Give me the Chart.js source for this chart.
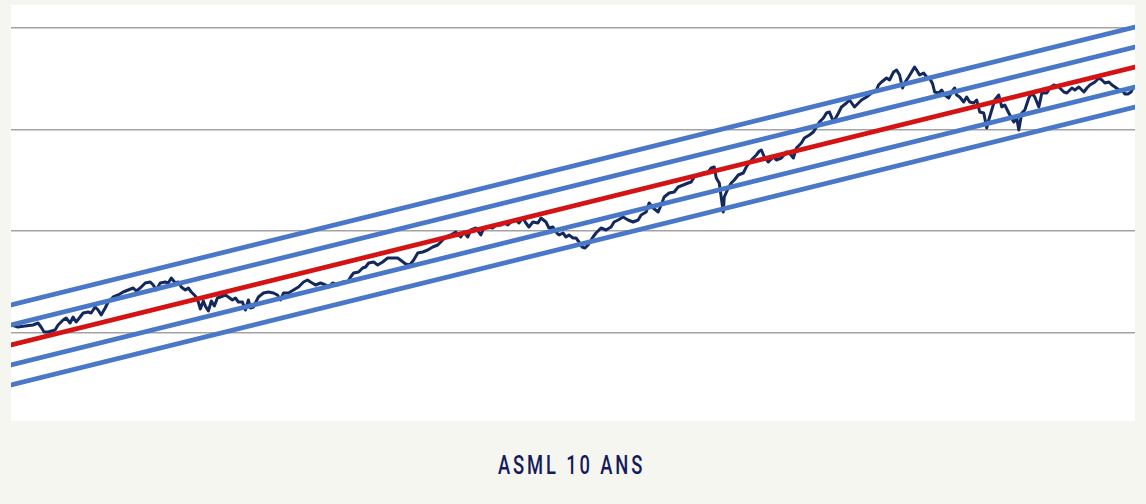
<!DOCTYPE html>
<html lang="fr">
<head>
<meta charset="utf-8">
<title>ASML 10 ans</title>
<script src="https://cdn.jsdelivr.net/npm/chart.js@4/dist/chart.umd.min.js"></script>
<style>
    html, body { margin: 0; padding: 0; }
    body { width: 1146px; height: 504px; background: #f6f6f1; position: relative; overflow: hidden; }
    #panel { position: absolute; left: 11px; top: 5px; width: 1124px; height: 416px; background: #ffffff; }
    #caption {
        position: absolute; left: 0; width: 1146px; top: 450px; text-align: center;
        transform: scaleX(0.72); transform-origin: 568px 0;
        font-family: "Roboto", "Liberation Sans", sans-serif; font-weight: 500;
        font-size: 25.5px; letter-spacing: 4px; color: #141a5c;
    }
</style>
</head>
<body>
<div id="panel"><canvas id="asmlChart" width="1124" height="416"></canvas></div>
<div id="caption">ASML 10 ANS</div>

<script>
// Time axis (sessions) and price readings
const jours = [0, 7, 14, 22, 27, 30, 33, 37, 44, 47, 52, 55, 59, 62, 65, 69, 72, 77, 80, 84, 87, 90, 94, 97, 102, 107, 112, 117, 122, 125, 129, 134, 139, 142, 145, 149, 154, 157, 160, 164, 167, 170, 174, 177, 180, 184, 187, 189, 192, 194, 197, 200, 203, 206, 209, 214, 217, 221, 224, 227, 231, 234, 237, 239, 242, 247, 252, 257, 262, 266, 269, 272, 277, 282, 287, 292, 296, 299, 304, 309, 314, 317, 321, 326, 331, 336, 339, 342, 347, 351, 354, 357, 362, 366, 371, 376, 381, 386, 390, 394, 398, 402, 406, 411, 416, 421, 426, 429, 434, 439, 444, 449, 452, 456, 459, 464, 469, 472, 477, 481, 484, 489, 492, 496, 499, 504, 507, 511, 514, 517, 521, 526, 529, 534, 537, 541, 544, 547, 551, 554, 557, 561, 564, 567, 570, 573, 576, 581, 584, 589, 594, 599, 602, 606, 611, 616, 621, 626, 629, 634, 637, 641, 646, 649, 652, 657, 662, 666, 671, 676, 679, 682, 686, 691, 696, 699, 702, 704, 707, 711, 712, 716, 719, 722, 726, 731, 734, 739, 744, 747, 749, 752, 756, 761, 764, 769, 774, 777, 781, 784, 789, 792, 797, 801, 804, 807, 811, 814, 817, 821, 826, 829, 834, 837, 842, 846, 849, 854, 859, 864, 866, 869, 874, 877, 881, 884, 887, 890, 892, 896, 899, 902, 904, 907, 911, 914, 917, 920, 922, 926, 929, 932, 936, 939, 942, 944, 947, 951, 954, 957, 961, 964, 967, 971, 974, 976, 979, 982, 986, 989, 992, 996, 1001, 1004, 1006, 1009, 1012, 1016, 1019, 1022, 1026, 1029, 1034, 1037, 1041, 1046, 1051, 1054, 1059, 1062, 1066, 1071, 1074, 1077, 1082, 1086, 1089, 1092, 1096, 1099, 1102, 1106, 1109, 1112, 1115, 1118, 1120];
const cours = [96, 94, 95, 96, 98, 94, 89, 89, 91, 96, 101, 103, 98, 104, 99, 104, 108, 109, 108, 114, 111, 106, 113, 119, 124, 126, 129, 131, 133, 130, 133, 138, 139, 136, 131, 138, 139, 138, 143, 138, 139, 134, 131, 133, 129, 125, 119, 112, 120, 115, 110, 120, 115, 123, 124, 126, 124, 121, 123, 119, 119, 111, 121, 113, 114, 124, 128, 129, 128, 126, 121, 128, 128, 131, 134, 139, 141, 139, 136, 138, 136, 134, 138, 136, 139, 139, 144, 148, 149, 153, 154, 158, 159, 156, 159, 163, 163, 163, 160, 157, 156, 161, 168, 169, 171, 174, 176, 179, 184, 186, 189, 184, 189, 184, 191, 193, 186, 193, 194, 193, 196, 196, 198, 196, 199, 201, 198, 203, 198, 194, 199, 198, 203, 199, 193, 194, 189, 186, 188, 184, 186, 183, 183, 179, 174, 173, 176, 184, 188, 193, 191, 194, 199, 201, 204, 201, 199, 201, 206, 209, 218, 213, 209, 216, 224, 228, 229, 234, 236, 238, 239, 244, 246, 248, 249, 253, 254, 243, 238, 209, 224, 233, 238, 241, 246, 248, 254, 261, 266, 270, 271, 264, 259, 264, 261, 263, 269, 268, 263, 273, 278, 283, 286, 289, 294, 299, 303, 308, 309, 299, 308, 314, 318, 321, 314, 318, 321, 324, 328, 331, 336, 339, 343, 341, 349, 351, 346, 333, 338, 344, 349, 354, 351, 346, 348, 344, 343, 337, 329, 328, 331, 326, 323, 329, 333, 326, 324, 319, 324, 319, 318, 321, 309, 308, 293, 301, 311, 321, 326, 314, 316, 308, 299, 303, 291, 308, 311, 323, 328, 324, 314, 328, 328, 333, 336, 334, 329, 328, 333, 331, 334, 329, 333, 336, 339, 343, 341, 338, 339, 336, 334, 331, 331, 327, 327, 329, 333];

// Regression channel: start / end of the centre line, band offsets
const trendDebut = [0, 1122];
const trendCentre = [76, 354];
const ecarts = [40, 20, -20, -40];

// Grid levels
const niveauxGrille = [88, 190, 291, 393];

const bleu = '#4a78c8';
const rouge = '#d41414';
const marine = '#13295e';

function droite(offset) {
    return trendDebut.map((x, i) => ({ x: x, y: trendCentre[i] + offset }));
}

const datasets = [];
ecarts.forEach(e => {
    datasets.push({
        data: droite(e),
        borderColor: bleu,
        borderWidth: 4.8,
        pointRadius: 0,
        borderCapStyle: 'round'
    });
});
datasets.push({
    data: droite(0),
    borderColor: rouge,
    borderWidth: 4.8,
    pointRadius: 0,
    borderCapStyle: 'round'
});
datasets.push({
    data: jours.map((j, i) => ({ x: j, y: cours[i] })),
    borderColor: marine,
    borderWidth: 3,
    pointRadius: 0,
    borderJoinStyle: 'round'
});

document.addEventListener('DOMContentLoaded', () => {
    const ctx = document.getElementById('asmlChart').getContext('2d');
    new Chart(ctx, {
        type: 'line',
        data: { datasets: datasets },
        options: {
            responsive: false,
            animation: false,
            layout: { padding: 0 },
            plugins: {
                legend: { display: false },
                tooltip: { enabled: false }
            },
            scales: {
                x: {
                    type: 'linear',
                    min: 0,
                    max: 1122,
                    display: false
                },
                y: {
                    type: 'linear',
                    min: 0,
                    max: 416,
                    afterBuildTicks: axis => {
                        axis.ticks = niveauxGrille.map(v => ({ value: v }));
                    },
                    ticks: { display: false },
                    border: { display: false },
                    grid: {
                        color: '#a3a3a3',
                        lineWidth: 1.5,
                        drawTicks: false
                    }
                }
            }
        }
    });
});
</script>
</body>
</html>
